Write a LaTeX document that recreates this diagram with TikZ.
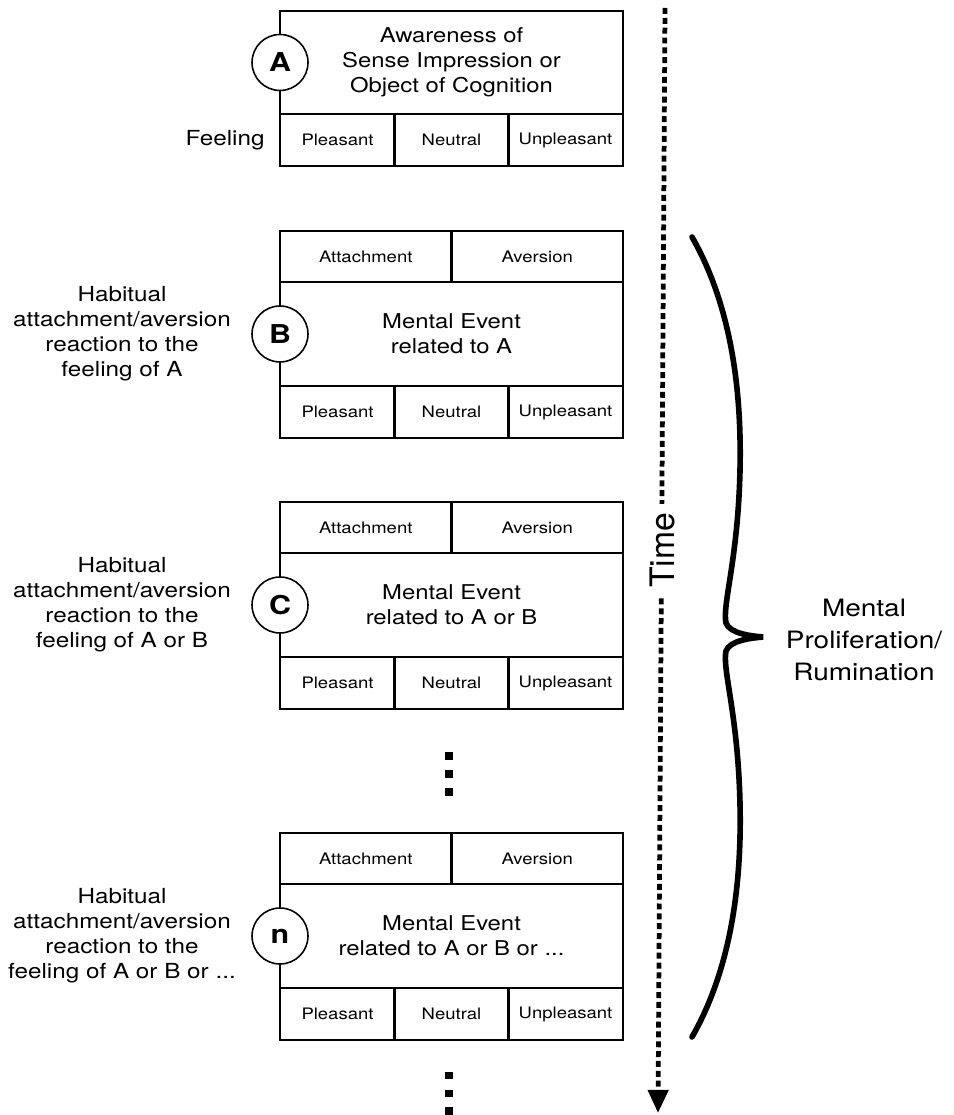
\documentclass[tikz,border=0pt]{standalone}
\usepackage{fontspec}
\setmainfont[FakeStretch=1.17]{TeX Gyre Heros}
\newfontfamily\timefont{TeX Gyre Heros}
\usepackage{tikz}
\usetikzlibrary{arrows.meta}
\pgfdeclarelayer{edgelayer}
\pgfdeclarelayer{nodelayer}
\pgfsetlayers{edgelayer,nodelayer,main}
\tikzstyle{main_box}=[rectangle,draw=black,line width=0.6pt,minimum width=3.43cm,inner sep=0pt,align=center,font=\fontsize{5.8pt}{7.1pt}\selectfont]
\tikzstyle{feel_cell}=[rectangle,draw=black,line width=0.6pt,minimum width=1.143cm,minimum height=0.52cm,inner sep=0pt,font=\fontsize{4.5pt}{5pt}\selectfont]
\tikzstyle{react_cell}=[rectangle,draw=black,line width=0.6pt,minimum width=1.715cm,minimum height=0.51cm,inner sep=0pt,font=\fontsize{4.5pt}{5pt}\selectfont]
\tikzstyle{letter_circle}=[circle,draw=black,fill=white,line width=0.45pt,minimum size=0.56cm,inner sep=0pt,font=\fontsize{7.4pt}{8pt}\selectfont\bfseries]
\tikzstyle{side_label}=[align=center,inner sep=0pt,font=\fontsize{5.9pt}{7.1pt}\selectfont]
\tikzstyle{dot_square}=[rectangle,fill=black,minimum size=0.075cm,inner sep=0pt]
\tikzstyle{time_arrow}=[-{Triangle[width=5.7pt,length=6.6pt]},draw=black,line width=1.35pt,dash pattern=on 1.7pt off 1.1pt]
\tikzstyle{brace_line}=[draw=black,line width=1.6pt,line cap=round]

\begin{document}
\begin{tikzpicture}
	\useasboundingbox (0, 0) rectangle (9.54, -11.15);
	\begin{pgfonlayer}{nodelayer}
		% A
		\node [style={main_box}, minimum height=1.03cm] (0) at (4.515, -0.625) {Awareness of\\Sense Impression or\\Object of Cognition};
		\node [style={feel_cell}] (1) at (3.375, -1.40) {Pleasant};
		\node [style={feel_cell}] (2) at (4.515, -1.40) {Neutral};
		\node [style={feel_cell}] (3) at (5.655, -1.40) {Unpleasant};
		\node [style={letter_circle}] (4) at (2.80, -0.625) {A};
		\node [style={side_label}] (5) at (2.25, -1.40) {Feeling};
		% B
		\node [style={react_cell}] (6) at (3.6575, -2.565) {Attachment};
		\node [style={react_cell}] (7) at (5.3725, -2.565) {Aversion};
		\node [style={main_box}, minimum height=1.04cm] (8) at (4.515, -3.34) {Mental Event\\related to A};
		\node [style={feel_cell}] (9) at (3.375, -4.12) {Pleasant};
		\node [style={feel_cell}] (10) at (4.515, -4.12) {Neutral};
		\node [style={feel_cell}] (11) at (5.655, -4.12) {Unpleasant};
		\node [style={letter_circle}] (12) at (2.80, -3.34) {B};
		\node [style={side_label}] (13) at (1.22, -3.34) {Habitual\\attachment/aversion\\reaction to the\\feeling of A};
		% C
		\node [style={react_cell}] (14) at (3.6575, -5.275) {Attachment};
		\node [style={react_cell}] (15) at (5.3725, -5.275) {Aversion};
		\node [style={main_box}, minimum height=1.04cm] (16) at (4.515, -6.05) {Mental Event\\related to A or B};
		\node [style={feel_cell}] (17) at (3.375, -6.83) {Pleasant};
		\node [style={feel_cell}] (18) at (4.515, -6.83) {Neutral};
		\node [style={feel_cell}] (19) at (5.655, -6.83) {Unpleasant};
		\node [style={letter_circle}] (20) at (2.80, -6.05) {C};
		\node [style={side_label}] (21) at (1.22, -6.05) {Habitual\\attachment/aversion\\reaction to the\\feeling of A or B};
		% n
		\node [style={react_cell}] (22) at (3.6575, -8.585) {Attachment};
		\node [style={react_cell}] (23) at (5.3725, -8.585) {Aversion};
		\node [style={main_box}, minimum height=1.04cm] (24) at (4.515, -9.36) {Mental Event\\related to A or B or ...};
		\node [style={feel_cell}] (25) at (3.375, -10.14) {Pleasant};
		\node [style={feel_cell}] (26) at (4.515, -10.14) {Neutral};
		\node [style={feel_cell}] (27) at (5.655, -10.14) {Unpleasant};
		\node [style={letter_circle}] (28) at (2.80, -9.36) {n};
		\node [style={side_label}] (29) at (1.22, -9.36) {Habitual\\attachment/aversion\\reaction to the\\feeling of A or B or ...};
		% dots
		\node [style={dot_square}] (30) at (4.49, -7.56) {};
		\node [style={dot_square}] (31) at (4.49, -7.74) {};
		\node [style={dot_square}] (32) at (4.49, -7.92) {};
		\node [style={dot_square}] (33) at (4.49, -10.755) {};
		\node [style={dot_square}] (34) at (4.49, -10.935) {};
		\node [style={dot_square}] (35) at (4.49, -11.11) {};
		% time and brace labels
		\node [fill=white, inner xsep=2.6pt, inner ysep=0.5pt, rotate=90, font=\fontsize{9.6pt}{10pt}\timefont] (36) at (6.625, -5.505) {Time};
		\node [style={side_label}, font=\fontsize{6.8pt}{9.1pt}\selectfont] (37) at (8.64, -6.40) {Mental\\Proliferation/\\Rumination};
		\coordinate (38) at (6.65, -0.08);
		\coordinate (39) at (6.58, -11.13);
		\coordinate (40) at (6.92, -2.37);
		\coordinate (41) at (7.63, -6.37);
		\coordinate (42) at (6.92, -10.37);
	\end{pgfonlayer}
	\begin{pgfonlayer}{edgelayer}
		\draw [style={time_arrow}] (38) to (39);
		\draw [style={brace_line}] (40) .. controls (7.28, -3.00) and (7.42, -3.80) .. (7.40, -4.70)
			.. controls (7.38, -5.60) and (7.22, -6.05) .. (7.26, -6.23)
			.. controls (7.30, -6.34) and (7.52, -6.36) .. (41)
			.. controls (7.52, -6.38) and (7.30, -6.40) .. (7.26, -6.51)
			.. controls (7.22, -6.69) and (7.38, -7.14) .. (7.40, -8.04)
			.. controls (7.42, -8.94) and (7.28, -9.74) .. (42);
	\end{pgfonlayer}
\end{tikzpicture}
\end{document}
